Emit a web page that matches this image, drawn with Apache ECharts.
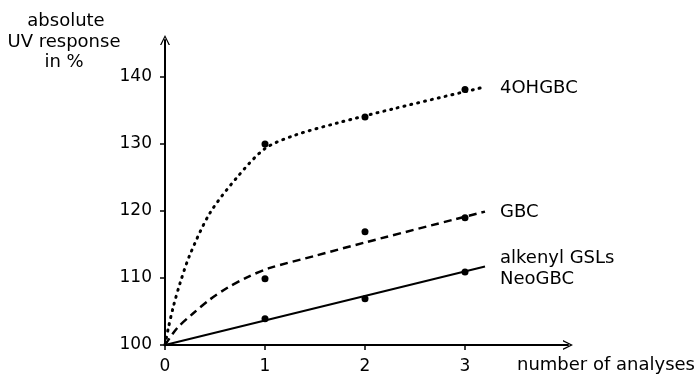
<!DOCTYPE html>
<html>
<head>
<meta charset="utf-8">
<script src="https://cdn.jsdelivr.net/npm/echarts@6/dist/echarts.min.js"></script>
<style>
	html, body { margin: 0; padding: 0; background: #fff; }
	#chart { width: 698px; height: 377px; }
</style>
</head>
<body>
<div id="chart"></div>
<script>
	// tick values
	var xTicks = [0, 1, 2, 3];
	var yTicks = [100, 110, 120, 130, 140];

	// measured points
	var pts4OH = [[1, 130], [2, 134], [3, 138.1]];
	var ptsGBC = [[1, 109.9], [2, 116.9], [3, 119]];
	var ptsAlk = [[1, 103.9], [2, 106.9], [3, 110.9]];

	// fitted curves
	var curve4OH = [[0, 100], [0.033, 102.5], [0.083, 105.7], [0.15, 109.2], [0.25, 113.5], [0.45, 119.7],
		[0.72, 125], [1, 129.3], [1.3, 131.3], [1.72, 133.1], [2.3, 135.3], [3.2, 138.5]];
	var curveGBC = [[0, 100], [0.12, 102.5], [0.28, 104.7], [0.45, 106.8], [0.62, 108.5], [0.82, 110.1],
		[1.05, 111.5], [1.5, 113.3], [2, 115.3], [3.2, 119.9]];
	var curveAlk = [[0, 100], [3.2, 111.7]];

	var font = 'DejaVu Sans';
	var chart = echarts.init(document.getElementById('chart'));

	var arrow = 'path://M0,10 L5,0 L10,10 L8.6,10 L5,2.6 L1.4,10 Z';

	function txt(s, x, y, size, align) {
		return {
			type: 'text',
			style: {
				text: s, x: x, y: y,
				font: size + 'px "' + font + '"',
				fill: '#000',
				textAlign: align || 'left',
				textVerticalAlign: 'middle'
			}
		};
	}

	var dot = { color: '#000', opacity: 1 };

	var option = {
		animation: false,
		backgroundColor: '#fff',
		grid: { left: 165, right: 130, top: 40, bottom: 32 },
		xAxis: {
			type: 'value',
			min: 0,
			max: 4.03,
			interval: 1,
			splitLine: { show: false },
			axisLine: {
				lineStyle: { color: '#000', width: 2 },
				symbol: ['none', arrow],
				symbolSize: [10, 10]
			},
			axisTick: { show: true, length: 5, lineStyle: { color: '#000', width: 1.5 }, customValues: xTicks },
			axisLabel: { color: '#000', fontFamily: font, fontSize: 17, margin: 13, customValues: xTicks }
		},
		yAxis: {
			type: 'value',
			min: 100,
			max: 145.5,
			interval: 10,
			splitLine: { show: false },
			axisLine: {
				show: true,
				lineStyle: { color: '#000', width: 2 },
				symbol: ['none', arrow],
				symbolSize: [10, 10]
			},
			axisTick: { show: true, length: 5, lineStyle: { color: '#000', width: 1.5 }, customValues: yTicks },
			axisLabel: { color: '#000', fontFamily: font, fontSize: 17, margin: 13, customValues: yTicks }
		},
		series: [
			{
				type: 'line', data: curve4OH, smooth: 0.3, showSymbol: false,
				lineStyle: { color: '#000', width: 3, type: [1, 6], cap: 'round' }
			},
			{
				type: 'line', data: curveGBC, smooth: 0.3, showSymbol: false,
				lineStyle: { color: '#000', width: 2.5, type: [8, 5] }
			},
			{
				type: 'line', data: curveAlk, showSymbol: false,
				lineStyle: { color: '#000', width: 2 }
			},
			{ type: 'scatter', data: pts4OH, symbolSize: 7, itemStyle: dot },
			{ type: 'scatter', data: ptsGBC, symbolSize: 7, itemStyle: dot },
			{ type: 'scatter', data: ptsAlk, symbolSize: 7, itemStyle: dot }
		],
		graphic: [
			txt('absolute', 66, 21, 18, 'center'),
			txt('UV response', 64, 42, 18, 'center'),
			txt('in %', 64, 62, 18, 'center'),
			txt('4OHGBC', 500, 88, 18),
			txt('GBC', 500, 212, 18),
			txt('alkenyl GSLs', 500, 258, 18),
			txt('NeoGBC', 500, 279, 18),
			txt('number of analyses', 517, 365, 18)
		]
	};
	chart.setOption(option);
</script>
</body>
</html>
